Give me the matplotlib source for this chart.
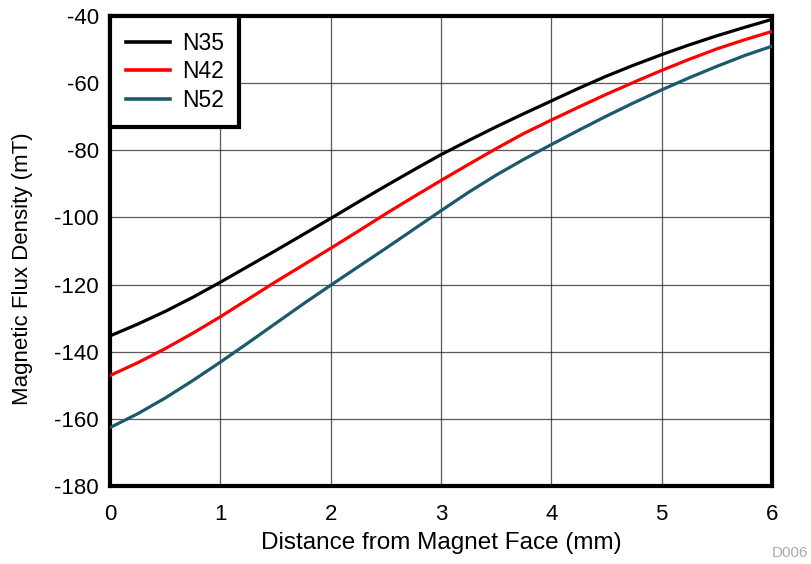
import matplotlib
matplotlib.use("Agg")
import matplotlib.pyplot as plt

plt.rcParams["font.family"] = ["Liberation Sans", "DejaVu Sans"]
plt.rcParams["axes.unicode_minus"] = False

distance_mm = [0, 0.25, 0.5, 0.75, 1, 1.25, 1.5, 1.75, 2, 2.25, 2.5, 2.75, 3,
               3.25, 3.5, 3.75, 4, 4.25, 4.5, 4.75, 5, 5.25, 5.5, 5.75, 6]
n35 = [-135.3, -131.8, -128.0, -123.8, -119.3, -114.6, -109.9, -105.1, -100.3,
       -95.4, -90.6, -85.9, -81.3, -77.1, -73.0, -69.1, -65.3, -61.5, -57.9,
       -54.6, -51.5, -48.6, -45.9, -43.4, -41.0]
n42 = [-147.1, -143.3, -139.1, -134.5, -129.6, -124.4, -119.2, -114.2, -109.2,
       -104.1, -98.9, -93.9, -89.0, -84.2, -79.5, -75.0, -71.0, -67.1, -63.3,
       -59.7, -56.2, -52.9, -49.8, -47.1, -44.6]
n52 = [-162.6, -158.5, -153.8, -148.6, -143.1, -137.4, -131.6, -125.8, -120.2,
       -114.7, -109.2, -103.6, -98.0, -92.5, -87.4, -82.7, -78.3, -74.0, -69.8,
       -65.8, -62.0, -58.4, -55.0, -51.8, -49.0]
series = [("N35", n35, "#000000"), ("N42", n42, "#ff0000"), ("N52", n52, "#1a5a6b")]

fig = plt.figure(figsize=(8.12, 5.64), dpi=100)
ax = fig.add_axes([110 / 812, 78 / 564, 662 / 812, 470 / 564])

for name, vals, col in series:
    ax.plot(distance_mm, vals, color=col, lw=2.3, label=name, zorder=3,
            solid_joinstyle="round")

ax.set_xlim(0, 6)
ax.set_ylim(-180, -40)
ax.set_xticks(range(0, 7))
ax.set_yticks(range(-180, -39, 20))
ax.grid(True, color="#222222", lw=0.9, alpha=0.75)
for s in ax.spines.values():
    s.set_linewidth(3.0)
ax.tick_params(axis="x", length=0, labelsize=16, pad=13)
ax.tick_params(axis="y", length=0, labelsize=16, pad=8)
ax.set_xlabel("Distance from Magnet Face (mm)", fontsize=17.5, labelpad=5)
ax.set_ylabel("Magnetic Flux Density (mT)", fontsize=16)
ax.yaxis.set_label_coords(-0.117, 0.462)

leg = ax.legend(loc="upper left", bbox_to_anchor=(0, 1), fontsize=16.5, frameon=True,
                fancybox=False, borderpad=0.68, handlelength=1.95, labelspacing=0.24,
                handletextpad=0.5, borderaxespad=0)
leg.get_frame().set_edgecolor("black")
leg.get_frame().set_linewidth(3.0)
leg.get_frame().set_alpha(1)
for line in leg.get_lines():
    line.set_linewidth(2.6)

fig.text(808 / 812, 4 / 564, "D006", ha="right", va="bottom", fontsize=11, color="#aaaaaa")

fig.savefig("out.png", dpi=100)
